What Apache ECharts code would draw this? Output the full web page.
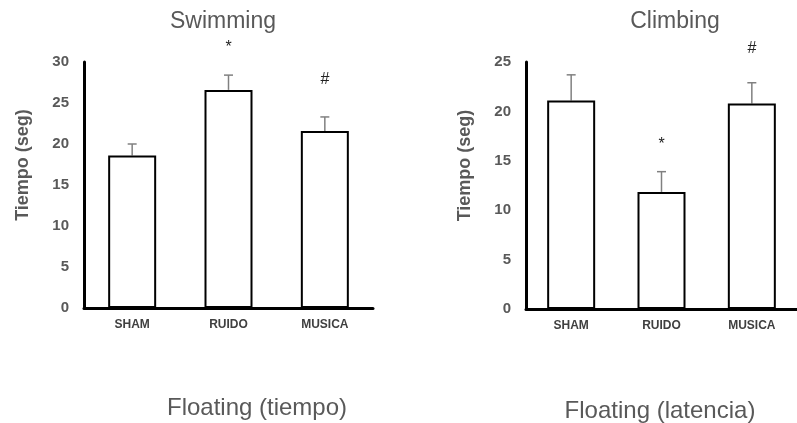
<!DOCTYPE html>
<html>
<head>
<meta charset="utf-8">
<script src="https://cdn.jsdelivr.net/npm/echarts@6/dist/echarts.min.js"></script>
<style>html,body{margin:0;padding:0;background:#fff;overflow:hidden}#c{width:797px;height:423px}</style>
</head>
<body>
<div id="c"></div>
<script>
var categories = ['SHAM', 'RUIDO', 'MUSICA'];
var swimValues = [18.6, 26.6, 21.6];
var swimErrors = [1.4, 1.8, 1.7];
var swimMarks = ['', '*', '#'];
var swimMarkLevels = [null, 31.7, 27.9];
var climbValues = [21.1, 11.85, 20.8];
var climbErrors = [2.6, 2.05, 2.1];
var climbMarks = ['', '*', '#'];
var climbMarkLevels = [null, 16.6, 26.4];
var swimTicks = {min: 0, max: 30, interval: 5};
var climbTicks = {min: 0, max: 25, interval: 5};

var FONT = '"Liberation Sans", Arial, sans-serif';
var grey = '#595959';

function errSeries(idx, vals, errs) {
  return {
    type: 'custom', xAxisIndex: idx, yAxisIndex: idx, z: 1,
    data: vals.map(function (v, i) { return [i, v, v + errs[i]]; }),
    renderItem: function (params, api) {
      var p0 = api.coord([api.value(0), api.value(1)]);
      var p1 = api.coord([api.value(0), api.value(2)]);
      var s = {stroke: '#808080', lineWidth: 1.5};
      return {type: 'group', children: [
        {type: 'line', shape: {x1: p0[0], y1: p0[1], x2: p1[0], y2: p1[1]}, style: s},
        {type: 'line', shape: {x1: p1[0] - 4.5, y1: p1[1], x2: p1[0] + 4.5, y2: p1[1]}, style: s}
      ]};
    }
  };
}
function markSeries(idx, marks, levels) {
  return {
    type: 'custom', xAxisIndex: idx, yAxisIndex: idx, z: 5, clip: false,
    data: marks.map(function (m, i) { return [i, levels[i] == null ? 0 : levels[i], m]; }),
    renderItem: function (params, api) {
      var txt = marks[params.dataIndex];
      if (!txt) return null;
      var p = api.coord([api.value(0), api.value(1)]);
      return {type: 'text', x: p[0], y: p[1], style: {text: txt, align: 'center', verticalAlign: 'middle', font: '16px ' + FONT, fill: '#222'}};
    }
  };
}
function barSeries(idx, vals) {
  return {
    type: 'bar', xAxisIndex: idx, yAxisIndex: idx, z: 3, barWidth: 48,
    data: vals,
    itemStyle: {color: '#fff', borderColor: '#000', borderWidth: 2}
  };
}
function xAx(idx) {
  return {
    type: 'category', gridIndex: idx, data: categories,
    axisLine: {lineStyle: {color: '#000', width: 3}},
    axisTick: {show: false},
    axisLabel: {fontFamily: FONT, fontWeight: 'bold', fontSize: 12, color: '#404040', margin: 11}
  };
}
function yAx(idx, t) {
  return {
    type: 'value', gridIndex: idx, min: t.min, max: t.max, interval: t.interval,
    name: 'Tiempo (seg)', nameLocation: 'middle', nameRotate: 90, nameGap: 52,
    nameTextStyle: {fontFamily: FONT, fontWeight: 'bold', fontSize: 18, color: grey, padding: [0, 0, 0, 40]},
    axisLine: {show: true, lineStyle: {color: '#000', width: 3}},
    axisTick: {show: false},
    splitLine: {show: false},
    axisLabel: {fontFamily: FONT, fontWeight: 'bold', fontSize: 15, color: grey, margin: 15}
  };
}

var chart = echarts.init(document.getElementById('c'), null, {renderer: 'canvas'});
chart.setOption({
  animation: false,
  grid: [
    {left: 84, top: 62, width: 289, bottom: 115},
    {left: 526, top: 62, width: 283.5, bottom: 114}
  ],
  xAxis: [xAx(0), xAx(1)],
  yAxis: [yAx(0, swimTicks), yAx(1, climbTicks)],
  graphic: [
    {type: 'text', x: 223, y: 22, style: {text: 'Swimming', align: 'center', verticalAlign: 'middle', font: '23px ' + FONT, fill: grey}},
    {type: 'text', x: 675, y: 22, style: {text: 'Climbing', align: 'center', verticalAlign: 'middle', font: '23px ' + FONT, fill: grey}},
    {type: 'text', x: 257, y: 408, style: {text: 'Floating (tiempo)', align: 'center', verticalAlign: 'middle', font: '24px ' + FONT, fill: grey}},
    {type: 'text', x: 660, y: 411, style: {text: 'Floating (latencia)', align: 'center', verticalAlign: 'middle', font: '24px ' + FONT, fill: grey}}
  ],
  series: [
    errSeries(0, swimValues, swimErrors),
    barSeries(0, swimValues),
    markSeries(0, swimMarks, swimMarkLevels),
    errSeries(1, climbValues, climbErrors),
    barSeries(1, climbValues),
    markSeries(1, climbMarks, climbMarkLevels)
  ]
});
</script>
</body>
</html>
